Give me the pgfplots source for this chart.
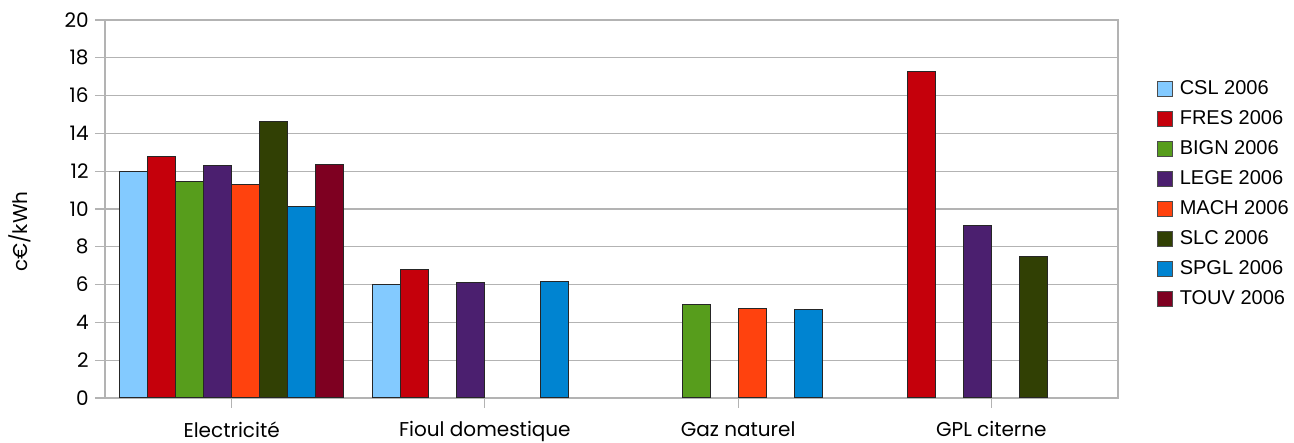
\documentclass[border=0pt]{standalone}
\usepackage{pgfplots}
\pgfplotsset{compat=1.18}
\usepackage{fontspec}
\setmainfont{Poppins}
\newfontfamily\legfont{Liberation Sans}

\definecolor{cCSL}{HTML}{83CAFF}
\definecolor{cFRES}{HTML}{C5000B}
\definecolor{cBIGN}{HTML}{579D1C}
\definecolor{cLEGE}{HTML}{4B1F6F}
\definecolor{cMACH}{HTML}{FF420E}
\definecolor{cSLC}{HTML}{314004}
\definecolor{cSPGL}{HTML}{0084D1}
\definecolor{cTOUV}{HTML}{7E0021}
\definecolor{gridc}{HTML}{B3B3B3}

\begin{document}
\begin{tikzpicture}
\begin{axis}[
  scale only axis,
  width=506.5pt, height=189pt,
  ybar=0pt, bar width=14pt,
  xmin=-0.5, xmax=3.5,
  ymin=0, ymax=20,
  ytick={0,2,...,20},
  xtick={0,1,2,3},
  xticklabels={Electricité, Fioul domestique, Gaz naturel, GPL citerne},
  xtick pos=lower, ytick pos=left,
  tick align=outside, major tick length=5pt,
  tick style={gridc, line width=0.6pt},
  axis line style={gridc, line width=0.8pt},
  ymajorgrids, grid style={gridc, line width=0.6pt},
  /pgf/number format/assume math mode=true,
  ticklabel style={font=\fontsize{10}{12}\selectfont},
  yticklabel style={inner sep=0pt, xshift=-3pt},
  xticklabel style={inner sep=0pt, yshift=-6.5pt},
  ylabel={c€/kWh},
  ylabel style={font=\fontsize{10}{12}\selectfont, at={(axis description cs:-0.084,0.44)}, anchor=center},
  every axis plot/.append style={draw=black!85, line width=0.5pt},
  legend cell align=left,
  legend image code/.code={\draw[#1, draw=black!70, line width=0.5pt] (0pt,-3.6pt) rectangle (7.2pt,3.6pt);},
  legend style={draw=none, fill=none, inner sep=0pt, at={(1,0.54)}, anchor=west, xshift=19.5pt,
    font=\legfont\fontsize{10}{12}\selectfont,
    nodes={inner sep=0pt, minimum height=15pt}, column sep=3.5pt},
]
\addplot[fill=cCSL] coordinates {(0,12.00) (1,6.01)};
\addplot[fill=cFRES] coordinates {(0,12.79) (1,6.82) (3,17.30)};
\addplot[fill=cBIGN] coordinates {(0,11.45) (2,4.97)};
\addplot[fill=cLEGE] coordinates {(0,12.31) (1,6.09) (3,9.12)};
\addplot[fill=cMACH] coordinates {(0,11.27) (2,4.72)};
\addplot[fill=cSLC] coordinates {(0,14.64) (3,7.49)};
\addplot[fill=cSPGL] coordinates {(0,10.14) (1,6.17) (2,4.70)};
\addplot[fill=cTOUV] coordinates {(0,12.33)};
\legend{CSL 2006, FRES 2006, BIGN 2006, LEGE 2006, MACH 2006, SLC 2006, SPGL 2006, TOUV 2006}
\end{axis}
\pgfresetboundingbox
\path ([shift={(-52.5pt,-22.5pt)}]current axis.south west) rectangle ([shift={(88pt,10pt)}]current axis.north east);
\end{tikzpicture}
\end{document}
